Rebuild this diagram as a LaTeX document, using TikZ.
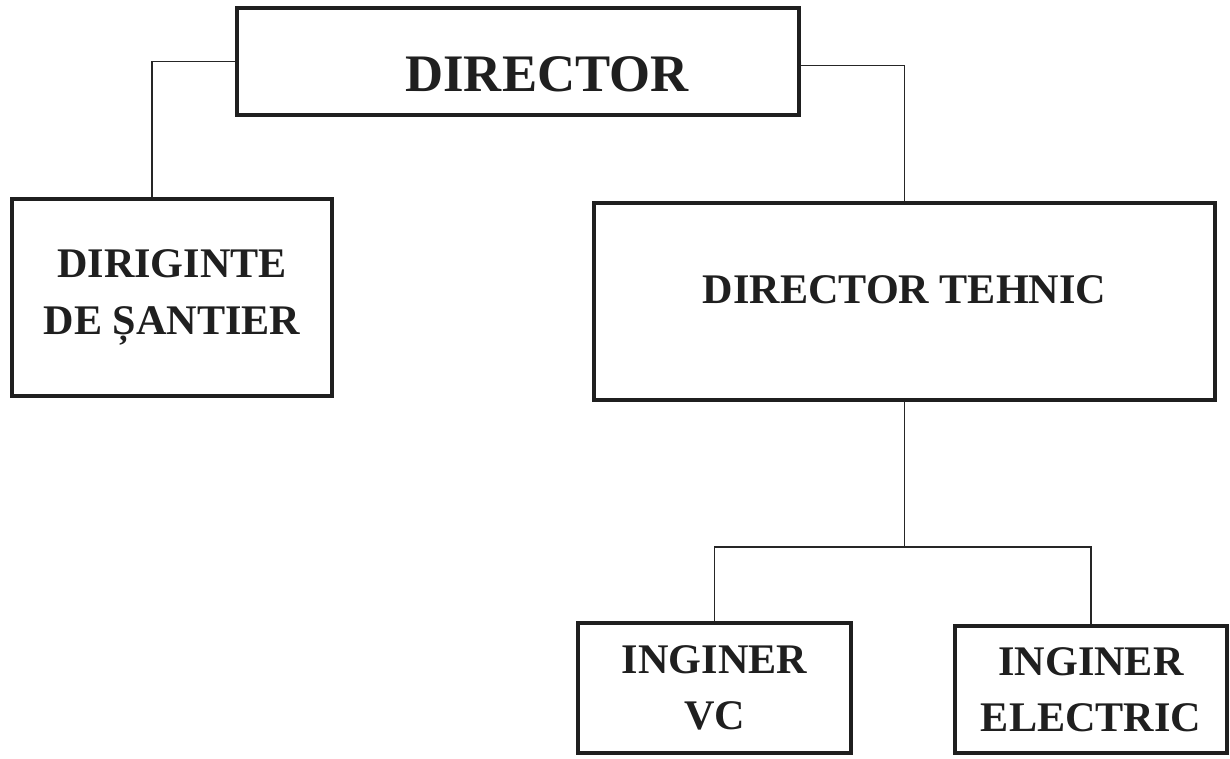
\documentclass[tikz,border=0pt]{standalone}
\usepackage{fontspec}
\setmainfont{Liberation Serif}
\usepackage{tikz}

\begin{document}
\begin{tikzpicture}[x=0.02cm,y=-0.02cm,
  box/.style={draw=black!88,line width=2.3pt,align=center,inner sep=0pt,text=black!88,
    font=\bfseries\fontsize{24}{32}\selectfont},
  con/.style={draw=black!85,line width=1.1pt}]
\useasboundingbox (0,0) rectangle (1230,758);
\node[box,minimum width=11.24cm,minimum height=2.14cm,text height=35pt,
  font=\bfseries\fontsize{30}{36}\selectfont] (dir) at (518,61.5) {\hspace*{33pt}DIRECTOR};
\node[box,minimum width=6.4cm,minimum height=3.94cm] (dsant) at (172,297.5) {DIRIGINTE\\DE ȘANTIER};
\node[box,minimum width=12.42cm,minimum height=3.94cm,text depth=14pt] (dtehn) at (904.5,301.5) {DIRECTOR TEHNIC};
\node[box,minimum width=5.46cm,minimum height=2.6cm] (ivc) at (714.5,688) {INGINER\\VC};
\node[box,minimum width=5.44cm,minimum height=2.54cm] (iel) at (1091,689.5) {INGINER\\ELECTRIC};
\coordinate (split) at (904.5,547);
\draw[con] (dir.west) -| ([xshift=-0.4cm]dsant.north);
\draw[con] ([yshift=-0.08cm]dir.east) -| (dtehn.north);
\draw[con] (dtehn.south) -- (split);
\draw[con] (ivc.north) |- (split) -| (iel.north);
\end{tikzpicture}
\end{document}
